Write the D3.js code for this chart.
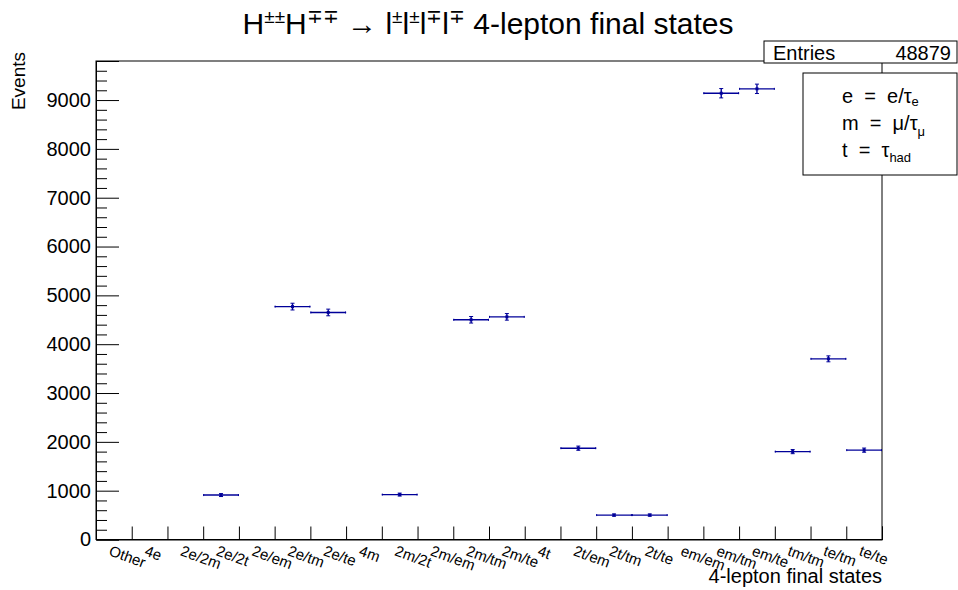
<!DOCTYPE html>
<html>
<head>
<meta charset="utf-8">
<script src="https://cdn.jsdelivr.net/npm/d3@7/dist/d3.min.js"></script>
<style>
  html, body { margin: 0; padding: 0; background: #fff; }
  svg { display: block; font-family: "Liberation Sans", Arial, Helvetica, sans-serif; }
</style>
</head>
<body>
<svg id="chart" width="958" height="590"></svg>
<script>
// ---- data ----
const categories = ["Other","4e","2e/2m","2e/2t","2e/em","2e/tm","2e/te","4m","2m/2t","2m/em","2m/tm",
  "2m/te","4t","2t/em","2t/tm","2t/te","em/em","em/tm","em/te","tm/tm","te/tm","te/te"];
const events = [0,0,0,910,0,4770,4650,0,920,0,4500,4560,0,1870,500,500,0,9140,9230,1800,3700,1830];
const yTicks = [0,1000,2000,3000,4000,5000,6000,7000,8000,9000];
const entriesLabel = "48879";

// ---- layout ----
const W = 958, H = 590;
const frame = {left: 96, right: 882, top: 61, bottom: 539.5};
const yMax = 9800;
const col = "#000099";

const svg = d3.select("#chart");
svg.append("rect").attr("width", W).attr("height", H).attr("fill", "#fff");

const x = d3.scaleBand().domain(categories).range([frame.left, frame.right]).paddingInner(0).paddingOuter(0);
const xEdge = d3.scaleLinear().domain([0, categories.length]).range([frame.left, frame.right]);
const y = d3.scaleLinear().domain([0, yMax]).range([frame.bottom, frame.top]);

// frame
svg.append("rect")
  .attr("x", frame.left).attr("y", frame.top)
  .attr("width", frame.right - frame.left).attr("height", frame.bottom - frame.top)
  .attr("fill", "none").attr("stroke", "#000").attr("stroke-width", 1);

// y axis major
const yAxis = d3.axisLeft(y).tickValues(yTicks).tickSize(-23).tickPadding(5).tickFormat(d3.format("d"));
const gy = svg.append("g").attr("transform", `translate(${frame.left},0)`).call(yAxis);
gy.select(".domain").attr("stroke", "#000");
gy.selectAll(".tick line").attr("stroke", "#000");
gy.selectAll(".tick text").attr("font-size", 20).attr("fill", "#000")
  .attr("font-family", "Liberation Sans, Arial, sans-serif");

// y axis minor
const minor = d3.range(0, yMax + 1, 200).filter(v => v % 1000 !== 0);
const yMinor = d3.axisLeft(y).tickValues(minor).tickSize(-11).tickFormat("");
const gym = svg.append("g").attr("transform", `translate(${frame.left},0)`).call(yMinor);
gym.select(".domain").remove();
gym.selectAll(".tick line").attr("stroke", "#000");

// x axis ticks at bin edges
const xAxis = d3.axisBottom(xEdge).tickValues(d3.range(0, categories.length + 1)).tickSize(-13).tickFormat("");
const gx = svg.append("g").attr("transform", `translate(0,${frame.bottom})`).call(xAxis);
gx.select(".domain").attr("stroke", "#000");
gx.selectAll(".tick line").attr("stroke", "#000");

// x labels (rotated)
svg.append("g").selectAll("text").data(categories).join("text")
  .attr("transform", d => `translate(${x(d) + x.bandwidth() / 2 - 2},${frame.bottom + 5}) rotate(20)`)
  .attr("dominant-baseline", "hanging")
  .attr("font-size", 15)
  .attr("fill", "#000")
  .text(d => d);

// axis titles
svg.append("text").attr("x", frame.right).attr("y", 583).attr("text-anchor", "end")
  .attr("font-size", 20).attr("fill", "#000").text("4-lepton final states");
svg.append("text").attr("transform", `translate(25,52) rotate(-90)`).attr("text-anchor", "end")
  .attr("font-size", 19).attr("fill", "#000").text("Events");

// data points
const pts = categories.map((c, i) => ({c, v: events[i]})).filter(d => d.v > 0);
const gp = svg.append("g").attr("stroke", col).attr("fill", col);
pts.forEach(d => {
  const x0 = x(d.c), x1 = x(d.c) + x.bandwidth(), xc = x0 + x.bandwidth() / 2;
  const yc = y(d.v), err = Math.sqrt(d.v);
  const yLo = y(d.v - err), yHi = y(d.v + err);
  gp.append("line").attr("x1", x0).attr("x2", x1).attr("y1", yc).attr("y2", yc).attr("stroke-width", 1.4);
  gp.append("line").attr("x1", x0 + 0.5).attr("x2", x0 + 0.5).attr("y1", yc - 1).attr("y2", yc + 1).attr("stroke-width", 1);
  gp.append("line").attr("x1", x1 - 0.5).attr("x2", x1 - 0.5).attr("y1", yc - 1).attr("y2", yc + 1).attr("stroke-width", 1);
  gp.append("line").attr("x1", xc).attr("x2", xc).attr("y1", yLo).attr("y2", yHi).attr("stroke-width", 1.4);
  gp.append("line").attr("x1", xc - 2).attr("x2", xc + 2).attr("y1", yLo).attr("y2", yLo).attr("stroke-width", 1);
  gp.append("line").attr("x1", xc - 2).attr("x2", xc + 2).attr("y1", yHi).attr("y2", yHi).attr("stroke-width", 1);
  gp.append("rect").attr("x", xc - 1.5).attr("y", yc - 1.5).attr("width", 3).attr("height", 3).attr("stroke", "none");
});

// title
const title = svg.append("text").attr("x", 488).attr("y", 34).attr("text-anchor", "middle")
  .attr("font-size", 30).attr("fill", "#000");
const parts = [["H",0],["±±",1],["H",0],["∓∓",1],[" → l",0],["±",1],["l",0],["±",1],["l",0],["∓",1],["l",0],["∓",1],[" 4-lepton final states",0]];
let prevSup = 0;
parts.forEach(([t, s]) => {
  const ts = title.append("tspan").text(t);
  if (s && !prevSup) ts.attr("font-size", 19).attr("dy", -11);
  else if (s) ts.attr("font-size", 19);
  else if (prevSup) ts.attr("dy", 11);
  prevSup = s;
});

// stats box
const sb = {x: 764, y: 41, w: 193, h: 22};
svg.append("rect").attr("x", sb.x).attr("y", sb.y).attr("width", sb.w).attr("height", sb.h)
  .attr("fill", "#fff").attr("stroke", "#000");
svg.append("text").attr("x", 773).attr("y", 60).attr("font-size", 20).attr("fill", "#000").text("Entries");
svg.append("text").attr("x", 951).attr("y", 60).attr("text-anchor", "end").attr("font-size", 20).attr("fill", "#000").text(entriesLabel);

// legend box
const lb = {x: 803, y: 73, w: 154, h: 102};
svg.append("rect").attr("x", lb.x).attr("y", lb.y).attr("width", lb.w).attr("height", lb.h)
  .attr("fill", "#fff").attr("stroke", "#000");
const legendRows = [
  {k: "e", v: "e/τ", sub: "e", y: 103, dy: 3},
  {k: "m", v: "μ/τ", sub: "μ", y: 130, dy: 6},
  {k: "t", v: "τ", sub: "had", y: 157, dy: 5}
];
legendRows.forEach(r => {
  const t = svg.append("text").attr("x", 842).attr("y", r.y).attr("font-size", 20).attr("fill", "#000")
    .style("white-space", "pre");
  t.append("tspan").text(r.k + "  =  " + r.v);
  t.append("tspan").attr("font-size", 13).attr("dy", r.dy).text(r.sub);
});
</script>
</body>
</html>
